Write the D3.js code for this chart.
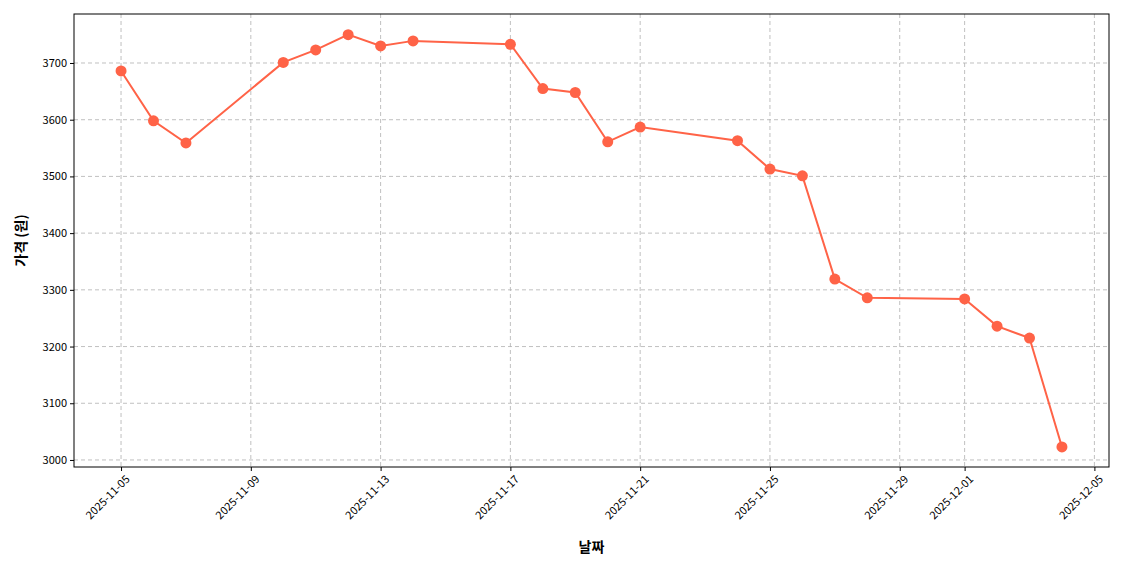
<!DOCTYPE html><html><head><meta charset="utf-8"><script src="https://cdn.jsdelivr.net/npm/d3@7"></script>
<style>body{margin:0;background:#fff}text{font-family:"Noto Sans CJK KR","Noto Sans",sans-serif}</style></head><body>
<svg id="c" width="1140" height="570"></svg>
<script>
const dates=["2025-11-05","2025-11-06","2025-11-07","2025-11-10","2025-11-11","2025-11-12","2025-11-13","2025-11-14","2025-11-17","2025-11-18","2025-11-19","2025-11-20","2025-11-21","2025-11-24","2025-11-25","2025-11-26","2025-11-27","2025-11-28","2025-12-01","2025-12-02","2025-12-03","2025-12-04"];
const prices=[3686,3598,3559,3701,3723,3750,3730,3739,3733,3655,3648,3561,3587,3563,3513,3501,3319,3286,3284,3236,3215,3023];
const xTicks=["2025-11-05","2025-11-09","2025-11-13","2025-11-17","2025-11-21","2025-11-25","2025-11-29","2025-12-01","2025-12-05"];
const yTicks=[3000,3100,3200,3300,3400,3500,3600,3700];
const p=d3.timeParse("%Y-%m-%d");
const L=74,R=1109,T=14,B=467;
const day=864e5;
const x=d3.scaleTime().domain([new Date(p("2025-11-05")-1.45*day),new Date(+p("2025-12-04")+1.45*day)]).range([L,R]);
const y=d3.scaleLinear().domain([2987.6,3786.4]).range([B,T]);
const svg=d3.select("#c");
const g=svg.append("g");
xTicks.forEach(t=>g.append("line").attr("x1",x(p(t))).attr("x2",x(p(t))).attr("y1",T).attr("y2",B).attr("stroke","#b0b0b0").attr("stroke-dasharray","4,3").attr("stroke-width",0.8));
yTicks.forEach(t=>g.append("line").attr("x1",L).attr("x2",R).attr("y1",y(t)).attr("y2",y(t)).attr("stroke","#b0b0b0").attr("stroke-dasharray","4,3").attr("stroke-width",0.8));
const data=dates.map((d,i)=>({d:p(d),v:prices[i]}));
svg.append("path").datum(data).attr("fill","none").attr("stroke","#ff6347").attr("stroke-width",2).attr("d",d3.line().x(d=>x(d.d)).y(d=>y(d.v)));
svg.selectAll("circle").data(data).join("circle").attr("cx",d=>x(d.d)).attr("cy",d=>y(d.v)).attr("r",5.5).attr("fill","#ff6347");
svg.append("rect").attr("x",L).attr("y",T).attr("width",R-L).attr("height",B-T).attr("fill","none").attr("stroke","#000").attr("stroke-width",1);
const xa=svg.append("g").attr("transform",`translate(0,${B})`).call(d3.axisBottom(x).tickValues(xTicks.map(p)).tickFormat(d3.timeFormat("%Y-%m-%d")).tickSizeOuter(0).tickSize(4));
xa.select(".domain").remove();
xa.selectAll("text").attr("font-size",11).attr("text-anchor","end").attr("dx","0").attr("dy","0").attr("transform",function(){return "translate(4,8) rotate(-45)"});
const ya=svg.append("g").attr("transform",`translate(${L},0)`).call(d3.axisLeft(y).tickValues(yTicks).tickSizeOuter(0).tickSize(4).tickFormat(d3.format("d")));
ya.select(".domain").remove();
ya.selectAll("text").attr("font-size",11);
svg.append("text").attr("x",(L+R)/2).attr("y",552).attr("text-anchor","middle").attr("font-size",14).attr("font-weight","bold").text("날짜");
svg.append("text").attr("transform",`translate(26,${(T+B)/2}) rotate(-90)`).attr("text-anchor","middle").attr("font-size",14).attr("font-weight","bold").text("가격 (원)");
</script></body></html>
